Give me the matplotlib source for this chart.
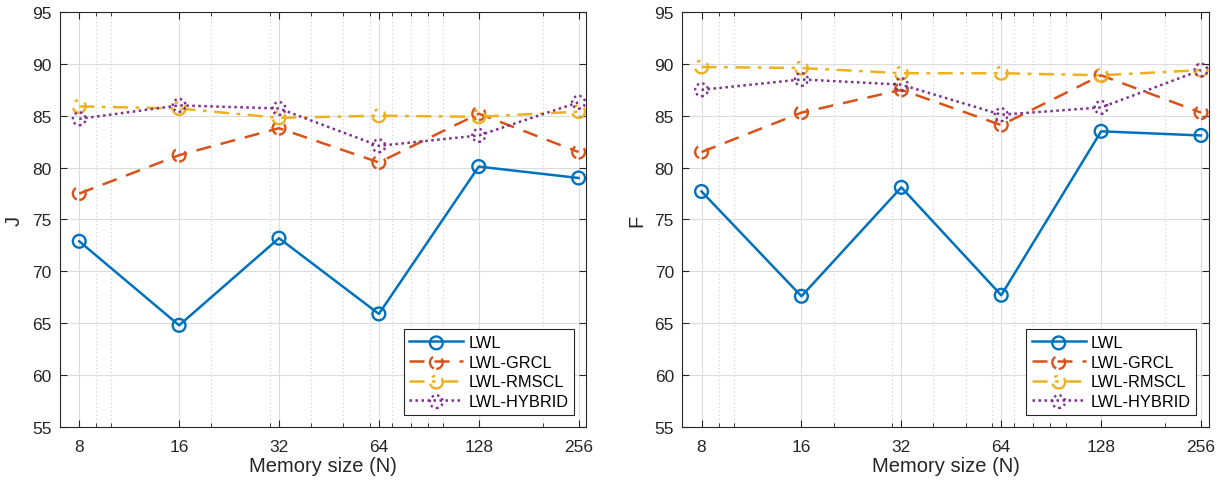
import numpy as np
import matplotlib
matplotlib.use("Agg")
import matplotlib.pyplot as plt
from matplotlib.ticker import FixedLocator, NullFormatter
from matplotlib.legend_handler import HandlerTuple

plt.rcParams['font.family'] = ['Liberation Sans', 'DejaVu Sans']

# data
memory = [8, 16, 32, 64, 128, 256]
methods = ['LWL', 'LWL-GRCL', 'LWL-RMSCL', 'LWL-HYBRID']

j_lwl = [72.9, 64.8, 73.2, 65.9, 80.1, 79.0]
j_grcl = [77.5, 81.2, 83.8, 80.5, 85.2, 81.5]
j_rmscl = [85.9, 85.7, 84.8, 85.0, 84.9, 85.4]
j_hybrid = [84.7, 86.0, 85.7, 82.1, 83.1, 86.3]

f_lwl = [77.7, 67.6, 78.1, 67.7, 83.5, 83.1]
f_grcl = [81.5, 85.3, 87.5, 84.1, 88.9, 85.3]
f_rmscl = [89.7, 89.6, 89.1, 89.1, 88.9, 89.4]
f_hybrid = [87.5, 88.5, 88.0, 85.1, 85.8, 89.4]

colors = ['#0072BD', '#D95319', '#EDB120', '#7E2F8E']
styles = ['-', (0, (6, 4)), (0, (6, 3, 1.5, 3)), (0, (1, 1.4))]
minor_x = [9, 10, 20, 30, 40, 50, 60, 70, 80, 90, 100, 200]

fig = plt.figure(figsize=(12.23, 4.81), dpi=100)
ax1 = fig.add_axes([60 / 1223, 53 / 481, 526.3 / 1223, 415 / 481])
ax2 = fig.add_axes([682.3 / 1223, 53 / 481, 526.4 / 1223, 415 / 481])


def draw(ax, series, ylab):
    handles = []
    for y, c, ls in zip(series, colors, styles):
        ln, = ax.plot(memory, y, color=c, ls=ls, lw=1.8, zorder=3)
        sc = ax.scatter(memory, y, s=85, facecolors='none', edgecolors=c,
                        linewidths=1.7, linestyles=ls, zorder=4)
        handles.append((ln, sc))
    ax.set_xscale('log', base=2)
    ax.set_xlim(7.0, 270)
    ax.set_ylim(55, 95)
    ax.set_yticks(np.arange(55, 96, 5))
    ax.set_xticks(memory)
    ax.set_xticklabels([str(m) for m in memory])
    ax.xaxis.set_minor_locator(FixedLocator(minor_x))
    ax.xaxis.set_minor_formatter(NullFormatter())
    ax.grid(True, which='major', color='#dcdcdc', lw=0.8)
    ax.grid(True, which='minor', axis='x', color='#d0d0d0', ls=(0, (1, 2.5)), lw=0.8)
    ax.set_axisbelow(True)
    ax.tick_params(which='both', direction='in', top=True, right=True,
                   labelsize=12.5, colors='#262626', length=5)
    ax.tick_params(which='minor', length=3)
    ax.tick_params(axis='x', pad=9)
    ax.tick_params(axis='y', pad=6)
    for s in ax.spines.values():
        s.set_color('#262626')
        s.set_linewidth(0.8)
    ax.set_xlabel('Memory size (N)', fontsize=14.5, color='#262626', labelpad=1)
    ax.set_ylabel(ylab, fontsize=14.5, color='#262626', labelpad=6)
    leg = ax.legend(handles, methods, handler_map={tuple: HandlerTuple(ndivide=1)},
                    loc='lower right', fontsize=11.8, fancybox=False,
                    edgecolor='#262626', framealpha=1, borderaxespad=0.75,
                    handlelength=3.3, labelspacing=0.28, borderpad=0.35,
                    handletextpad=0.3)
    leg.get_frame().set_linewidth(0.8)


draw(ax1, [j_lwl, j_grcl, j_rmscl, j_hybrid], 'J')
draw(ax2, [f_lwl, f_grcl, f_rmscl, f_hybrid], 'F')

fig.savefig('out.png', dpi=100)
